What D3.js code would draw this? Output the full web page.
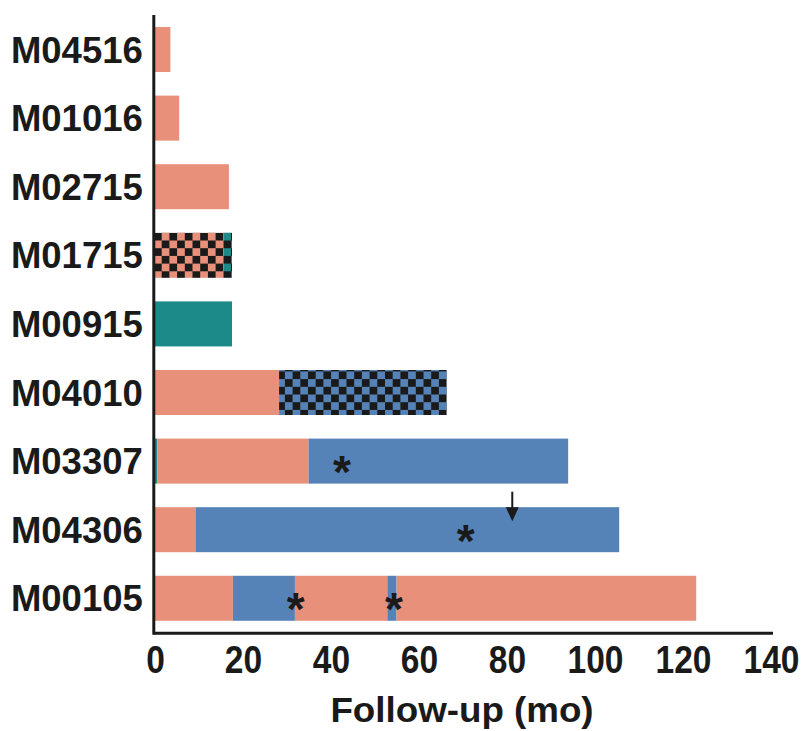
<!DOCTYPE html>
<html>
<head>
<meta charset="utf-8">
<script src="https://cdn.jsdelivr.net/npm/d3@7"></script>
<style>
  html, body { margin: 0; padding: 0; background: #fff; }
  svg { display: block; }
  text { font-family: "Liberation Sans", Arial, sans-serif; font-weight: bold; fill: #1a1a1a; }
</style>
</head>
<body>
<svg id="chart" width="805" height="731"></svg>
<script>
// ---- data ----
const patients = ["M04516","M01016","M02715","M01715","M00915","M04010","M03307","M04306","M00105"];
const xTicks = [0, 20, 40, 60, 80, 100, 120, 140];

// treatment segments (parallel arrays)
const segPatient   = ["M04516","M01016","M02715","M01715","M01715","M00915","M04010","M04010","M03307","M03307","M03307","M04306","M04306","M00105","M00105","M00105","M00105","M00105"];
const segStart     = [0,   0,   0,    0,    15.6, 0,    0,    28.2, 0,   0.5,  34.9, 0,   9.2,  0,    17.7, 31.8, 52.8, 54.9];
const segEnd       = [3.5, 5.5, 16.8, 15.6, 17.5, 17.5, 28.2, 66.3, 0.5, 34.9, 93.9, 9.2, 105.5, 17.7, 31.8, 52.8, 54.9, 123];
const segTreatment = ["A","A","A","A","C","C","A","B","C","A","B","A","B","A","B","A","B","A"];
const segChecked   = [false,false,false,true,true,false,false,true,false,false,false,false,false,false,false,false,false,false];

// event markers
const starPatient = ["M03307","M04306","M00105","M00105"];
const starMonth   = [42.5, 70.6, 32, 54.3];
const arrowPatient = ["M04306"];
const arrowMonth   = [81.2];

// ---- style ----
const colors = { A: "#E9907A", B: "#5583B7", C: "#1B8A89" };

const svg = d3.select("#chart");
const defs = svg.append("defs");

const x = d3.scaleLinear().domain([0, 140]).range([155, 771]);
const y = d3.scaleBand().domain(patients).range([13.3, 634.5]).paddingInner(0.344).paddingOuter(0.2);

// checker patterns
Object.entries(colors).forEach(([k, c]) => {
  const s = 7.7;
  const p = defs.append("pattern").attr("id", "chk" + k)
    .attr("patternUnits", "userSpaceOnUse").attr("width", 2 * s).attr("height", 2 * s)
    .attr("x", 161.7 - s).attr("y", y("M01715"));
  p.append("rect").attr("width", 2 * s).attr("height", 2 * s).attr("fill", c);
  p.append("rect").attr("x", 0).attr("y", 0).attr("width", s).attr("height", s).attr("fill", "#1a1a1a");
  p.append("rect").attr("x", s).attr("y", s).attr("width", s).attr("height", s).attr("fill", "#1a1a1a");
});

// bars
const segs = segPatient.map((p, i) => ({ p, s: segStart[i], e: segEnd[i], t: segTreatment[i], c: segChecked[i] }));
svg.append("g").selectAll("rect").data(segs).join("rect")
  .attr("x", d => x(d.s))
  .attr("y", d => y(d.p))
  .attr("width", d => x(d.e) - x(d.s))
  .attr("height", y.bandwidth())
  .attr("fill", d => d.c ? "url(#chk" + d.t + ")" : colors[d.t]);

// asterisks
svg.append("g").selectAll("text").data(starPatient.map((p, i) => ({ p, m: starMonth[i] }))).join("text")
  .attr("x", d => x(d.m))
  .attr("y", d => y(d.p) + y.bandwidth() / 2 + 3 + 24)
  .attr("text-anchor", "middle")
  .style("font-size", "46px")
  .text("*");

// arrow
const ag = svg.append("g");
arrowPatient.forEach((p, i) => {
  const ax = x(arrowMonth[i]), top = y(p);
  ag.append("line").attr("x1", ax).attr("x2", ax).attr("y1", top - 15.5).attr("y2", top + 2)
    .attr("stroke", "#1a1a1a").attr("stroke-width", 2);
  ag.append("path").attr("d", `M${ax - 6.5},${top} L${ax + 6.5},${top} L${ax},${top + 14} Z`).attr("fill", "#1a1a1a");
});

// axes
const xAxis = svg.append("g").attr("transform", "translate(0,633.3)")
  .call(d3.axisBottom(x).tickValues(xTicks).tickSize(0).tickPadding(0));
xAxis.select(".domain").attr("d", `M153.8,0H773`).attr("stroke", "#1a1a1a").attr("stroke-width", 3);
xAxis.selectAll(".tick text")
  .attr("y", 0).attr("dy", null)
  .attr("transform", "translate(0,40) scale(0.86,1)")
  .style("font-size", "39px").style("font-family", "'Liberation Sans', Arial, sans-serif").attr("fill", "#1a1a1a");

const yAxis = svg.append("g").attr("transform", "translate(153.8,0)")
  .call(d3.axisLeft(y).tickSize(0).tickPadding(10));
yAxis.select(".domain").attr("d", `M0,15V634.8`).attr("stroke", "#1a1a1a").attr("stroke-width", 3);
yAxis.selectAll(".tick text")
  .attr("x", -11).attr("dy", "0.36em")
  .style("font-size", "36.5px").style("font-family", "'Liberation Sans', Arial, sans-serif").attr("fill", "#1a1a1a");

// x axis title
svg.append("text")
  .attr("transform", "translate(462,722) scale(1.05,1)")
  .attr("text-anchor", "middle")
  .style("font-size", "35px")
  .text("Follow-up (mo)");
</script>
</body>
</html>
